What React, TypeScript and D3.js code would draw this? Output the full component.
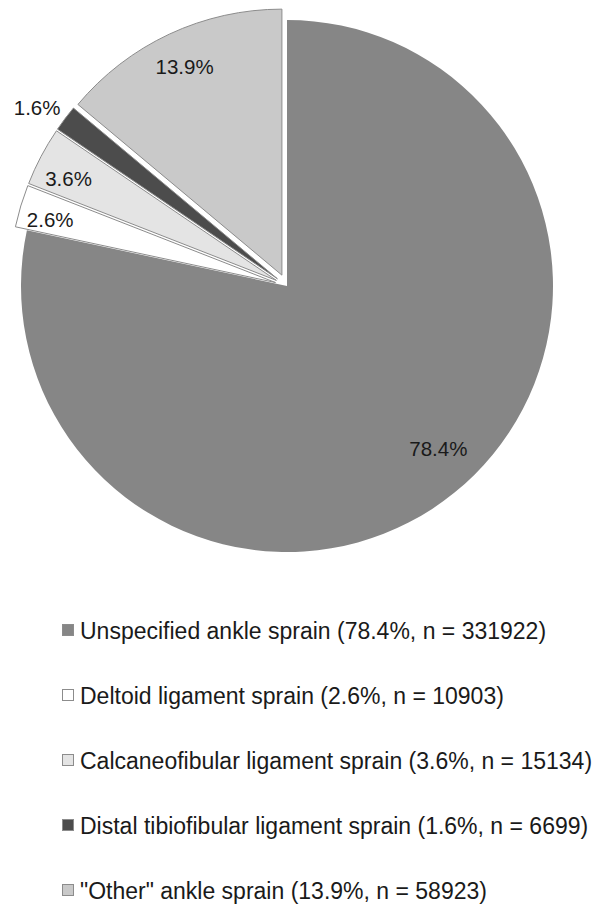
import { useEffect, useRef } from 'react';
import * as d3 from 'd3';

// categories and values
const categories = [
    'Unspecified ankle sprain',
    'Deltoid ligament sprain',
    'Calcaneofibular ligament sprain',
    'Distal tibiofibular ligament sprain',
    '"Other" ankle sprain'
];
const counts = [331922, 10903, 15134, 6699, 58923];
const percentLabels = ['78.4%', '2.6%', '3.6%', '1.6%', '13.9%'];

const fills = ['#868686', '#ffffff', '#e4e4e4', '#4c4c4c', '#c9c9c9'];
const exploded = [false, true, true, true, true];
// label distance from the centre (fraction of radius) and angle tweak (degrees)
const labelRadius = [0.835, 0.925, 0.916, 1.155, 0.91];
const labelShift = [-4, -1, -1.5, -1.5, 0];

export default function App() {
    const ref = useRef<SVGSVGElement>(null);

    useEffect(() => {
        const svg = d3.select(ref.current);
        svg.selectAll('*').remove();

        const cx = 287, cy = 286, radius = 266, explode = 12;
        const font = '"Liberation Sans", Arial, Helvetica, sans-serif';

        const pie = d3.pie<number>().sort(null).value(d => d)(counts);
        const arc = d3.arc<d3.PieArcDatum<number>>().innerRadius(0).outerRadius(radius);

        const g = svg.append('g').attr('transform', `translate(${cx},${cy})`);

        const polar = (angle: number, dist: number) => [Math.sin(angle) * dist, -Math.cos(angle) * dist];
        const mid = (d: d3.PieArcDatum<number>) => (d.startAngle + d.endAngle) / 2;

        g.selectAll('path.slice')
            .data(pie)
            .join('path')
            .attr('class', 'slice')
            .attr('d', arc)
            .attr('transform', (d, i) => {
                const [dx, dy] = exploded[i] ? polar(mid(d), explode) : [0, 0];
                return `translate(${dx},${dy})`;
            })
            .attr('fill', (d, i) => fills[i])
            .attr('stroke', (d, i) => (i === 0 ? 'none' : '#8c8c8c'))
            .attr('stroke-width', 1);

        const labelPos = (d: d3.PieArcDatum<number>, i: number) =>
            polar(mid(d) + labelShift[i] * Math.PI / 180, radius * labelRadius[i]);

        g.selectAll('text.pct')
            .data(pie)
            .join('text')
            .attr('class', 'pct')
            .attr('x', (d, i) => labelPos(d, i)[0])
            .attr('y', (d, i) => labelPos(d, i)[1])
            .attr('text-anchor', 'middle')
            .attr('dominant-baseline', 'central')
            .attr('font-family', font)
            .attr('font-size', 20.5)
            .attr('fill', '#1a1a1a')
            .text((d, i) => percentLabels[i]);

        // Legend
        const legend = svg.append('g').attr('transform', 'translate(62,630)');
        const row = legend.selectAll('g')
            .data(categories)
            .join('g')
            .attr('transform', (d, i) => `translate(0,${i * 65})`);

        row.append('rect')
            .attr('x', 0.5)
            .attr('y', -5.5)
            .attr('width', 11)
            .attr('height', 11)
            .attr('fill', (d, i) => fills[i])
            .attr('stroke', '#8c8c8c');

        row.append('text')
            .attr('x', 18)
            .attr('y', 1)
            .attr('dominant-baseline', 'central')
            .attr('font-family', font)
            .attr('font-size', 23)
            .attr('fill', '#1a1a1a')
            .text((d, i) => `${d} (${percentLabels[i]}, n = ${counts[i]})`);
    }, []);

    return (
        <div style={{ position: 'absolute', left: 0, top: 0 }}>
            <svg ref={ref} width={600} height={904} style={{ display: 'block', background: '#fff' }} />
        </div>
    );
}
